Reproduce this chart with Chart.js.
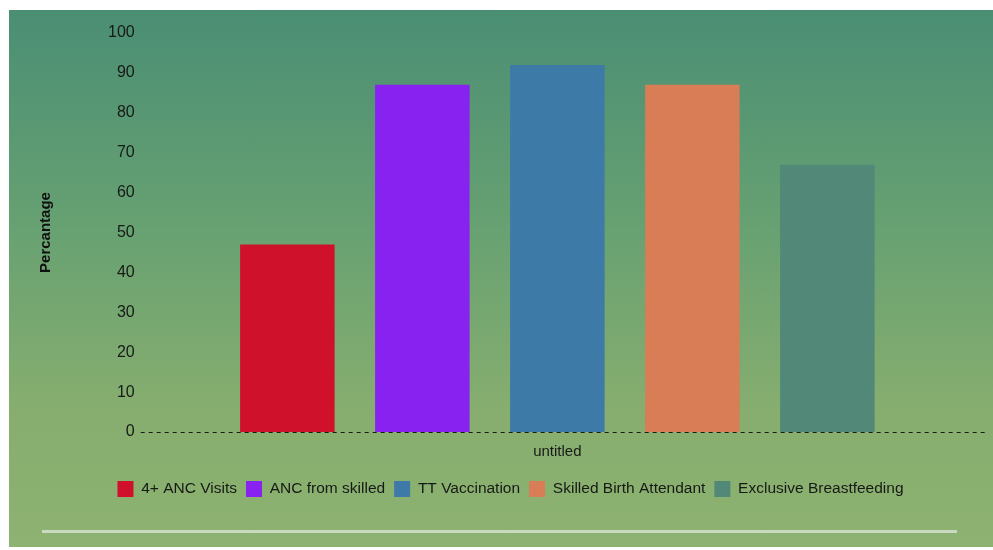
<!DOCTYPE html>
<html>
<head>
<meta charset="utf-8">
<script src="https://cdn.jsdelivr.net/npm/chart.js@4.4.0/dist/chart.umd.min.js"></script>
<style>
  body { margin: 0; background: #fff; }
  #panel {
    position: absolute; left: 9px; top: 10px; width: 984px; height: 537px;
    background: linear-gradient(to bottom, #4a8e74 0%, #67a172 40%, #87ae6f 75%, #8db271 100%);
  }
  #bottomLine {
    position: absolute; left: 33px; top: 520px; width: 915px; height: 3px;
    background: #c9d9c2;
  }
</style>
</head>
<body>
<div id="panel">
  <canvas id="myChart" width="984" height="537"></canvas>
  <div id="bottomLine"></div>
</div>
<script>
// donnees du graphe
const categories = ["untitled"]
const seriesNames = ["4+ ANC Visits", "ANC from skilled", "TT Vaccination", "Skilled Birth Attendant", "Exclusive Breastfeeding"]
const seriesValues = [47, 87, 92, 87, 67]
const seriesColors = ["#d0112b", "#8722f0", "#3d7aa8", "#d87d55", "#528878"]
const yTicks = [0, 10, 20, 30, 40, 50, 60, 70, 80, 90, 100]

const datasets = seriesNames.map((nom, i) => ({
    label: nom,
    data: [seriesValues[i]],
    backgroundColor: seriesColors[i],
    categoryPercentage: 0.81,
    barPercentage: 0.7
}))

// ligne pointillee a zero, un peu plus longue que la zone du graphe
const ligneZero = {
    id: 'ligneZero',
    beforeDatasetsDraw(chart) {
        const ctx = chart.ctx
        const y = chart.scales.y.getPixelForValue(0) + 0.5
        ctx.save()
        ctx.strokeStyle = '#1a1f1a'
        ctx.lineWidth = 1
        ctx.setLineDash([4, 4])
        ctx.beginPath()
        ctx.moveTo(chart.chartArea.left, y)
        ctx.lineTo(chart.width - 6, y)
        ctx.stroke()
        ctx.restore()
    }
}

const config = {
    type: 'bar',
    data: { labels: categories, datasets: datasets },
    options: {
        responsive: false,
        animation: false,
        layout: { padding: { left: 38, right: 19, top: 23, bottom: 40 } },
        plugins: {
            tooltip: { enabled: false },
            legend: {
                position: 'bottom',
                labels: {
                    boxWidth: 16, boxHeight: 16, padding: 9,
                    color: '#161a16',
                    font: { family: 'Liberation Sans', size: 15.5 }
                }
            }
        },
        scales: {
            x: {
                grid: { display: false, drawTicks: false },
                border: { display: false },
                ticks: { color: '#161a16', padding: 11, font: { family: 'Liberation Sans', size: 15 } }
            },
            y: {
                min: 0, max: 100,
                afterBuildTicks: axis => { axis.ticks = yTicks.map(v => ({ value: v })) },
                grid: { display: false, drawTicks: false },
                border: { display: false },
                ticks: { color: '#161a16', padding: 6, font: { family: 'Liberation Sans', size: 16 } },
                title: {
                    display: true, text: 'Percantage', color: '#111',
                    padding: { top: -10, bottom: 47 },
                    font: { family: 'Liberation Sans', size: 15, weight: 'bold' }
                }
            }
        }
    },
    plugins: [ligneZero]
}

new Chart(document.querySelector("#myChart"), config)
</script>
</body>
</html>
